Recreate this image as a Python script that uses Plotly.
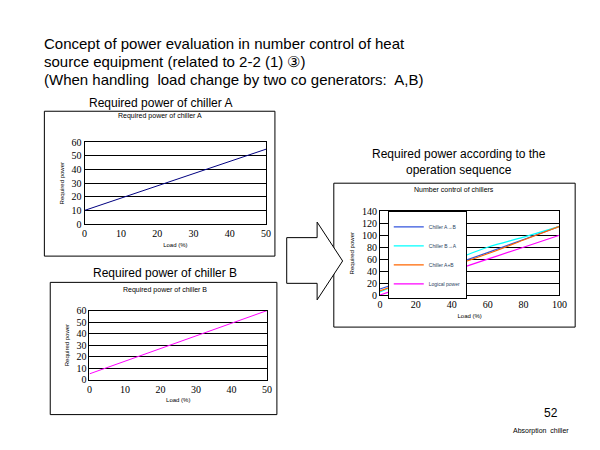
import plotly.graph_objects as go

W, H = 584, 434
OFF = 8

# data
load_a = [0, 50]
power_a = [10, 55]
load_b = [0, 50]
power_b = [5, 60]
load_seq = [0, 20, 40, 60, 80, 100]
seq_ab = [10, 30, 50, 71, 93, 115]
seq_ba = [5, 31, 57, 80, 97, 115]
seq_sum = [7, 28, 48, 69, 92, 115]
seq_logic = [0, 20, 40, 60, 80, 100]


def px(x):
    return (x - OFF) / W


def py(y):
    return 1 - (y - OFF) / H


fig = go.Figure()
tick_font = dict(family="Liberation Serif", size=10, color="black")
lbl_font = dict(family="Liberation Sans", size=6, color="black")


def axes(n, x0, x1, y0, y1, xr, xd, yr, yd):
    sfx = "" if n == 1 else str(n)
    common = dict(showline=True, linecolor="black", mirror=True, ticks="",
                  tickfont=tick_font, zeroline=False)
    fig.update_layout(**{
        "xaxis" + sfx: dict(domain=[px(x0), px(x1)], range=xr, dtick=xd, showgrid=False,
                            anchor="y" + sfx, title=dict(text="Load (%)", font=lbl_font, standoff=4),
                            **common),
        "yaxis" + sfx: dict(domain=[py(y1), py(y0)], range=yr, dtick=yd, showgrid=True,
                            gridcolor="black", gridwidth=1, anchor="x" + sfx,
                            title=dict(text="Required power", font=lbl_font, standoff=6),
                            **common),
    })


fig.add_trace(go.Scatter(x=load_a, y=power_a, mode="lines", line=dict(color="#000080", width=1),
                         xaxis="x", yaxis="y", showlegend=False))
axes(1, 83, 268, 140, 224, [0, 50], 10, [0, 60], 10)

fig.add_trace(go.Scatter(x=load_b, y=power_b, mode="lines", line=dict(color="#ff00ff", width=1),
                         xaxis="x2", yaxis="y2", showlegend=False))
axes(2, 88, 269, 313, 384, [0, 50], 10, [0, 60], 10)

for name, ys, c in [("Chiller A→B", seq_ab, "#3355dd"), ("Chiller B→A", seq_ba, "#00ffff"),
                    ("Chiller A+B", seq_sum, "#ff6600"), ("Logical power", seq_logic, "#ff00ff")]:
    fig.add_trace(go.Scatter(x=load_seq, y=ys, mode="lines", name=name, line=dict(color=c, width=1.2),
                             xaxis="x3", yaxis="y3", line_shape="spline"))
axes(3, 384, 567, 211, 297, [0, 100], 20, [0, 140], 20)

shapes = [
    dict(type="rect", xref="paper", yref="paper", x0=px(42), x1=px(277), y0=py(257), y1=py(108),
         line=dict(color="black", width=1)),
    dict(type="rect", xref="paper", yref="paper", x0=px(48), x1=px(279), y0=py(420), y1=py(284),
         line=dict(color="black", width=1)),
    dict(type="rect", xref="paper", yref="paper", x0=px(337), x1=px(583), y0=py(330), y1=py(182),
         line=dict(color="black", width=1)),
]
pts = [(289, 238), (320, 238), (320, 222), (346, 262), (320, 302), (320, 285), (289, 285)]
path = "M " + " L ".join(f"{px(x)},{py(y)}" for x, y in pts) + " Z"
shapes.append(dict(type="path", xref="paper", yref="paper", path=path,
                   line=dict(color="black", width=1), fillcolor="white"))

ann = [
    (40, 38, "Concept of power evaluation in number control of heat", 15, "left"),
    (40, 57, "source equipment (related to 2-2 (1) ③)", 15, "left"),
    (40, 75, "(When handling  load change by two co generators:  A,B)", 15, "left"),
    (160, 100, "Required power of chiller A", 12, "center"),
    (160, 113, "Required power of chiller A", 7, "center"),
    (165, 274, "Required power of chiller B", 12, "center"),
    (165, 292, "Required power of chiller B", 7, "center"),
    (465, 152, "Required power according to the", 12, "center"),
    (465, 168, "operation sequence", 12, "center"),
    (460, 188, "Number control of chillers", 7, "center"),
    (558, 418, "52", 12, "center"),
    (548, 437, "Absorption  chiller", 7, "center"),
]
annotations = [dict(x=px(x), y=py(y), xref="paper", yref="paper", text=t, showarrow=False,
                    font=dict(family="Liberation Sans", size=s, color="black"),
                    xanchor=a, yanchor="middle") for x, y, t, s, a in ann]

fig.update_layout(
    width=W, height=H, margin=dict(l=0, r=0, t=0, b=0),
    paper_bgcolor="white", plot_bgcolor="white",
    shapes=shapes, annotations=annotations,
    legend=dict(x=px(392), y=py(211), xanchor="left", yanchor="top",
                bordercolor="black", borderwidth=1, bgcolor="white",
                font=dict(family="Liberation Sans", size=5), tracegroupgap=0,
                itemwidth=30),
)

fig.write_html("out.html")
